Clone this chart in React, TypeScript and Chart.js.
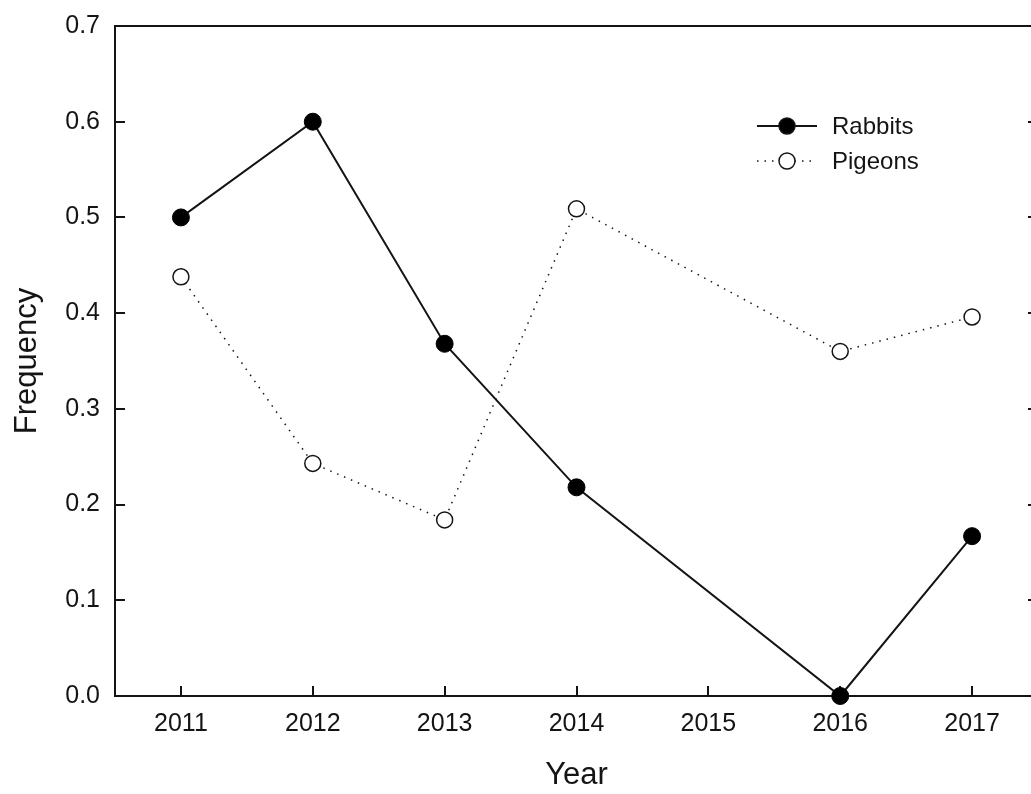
import React, { useEffect, useRef } from "react";
import { Chart, registerables } from "chart.js";

Chart.register(...registerables);

const years = [2011, 2012, 2013, 2014, 2016, 2017];
const rabbits = [0.5, 0.6, 0.368, 0.218, 0.0, 0.167];
const pigeons = [0.438, 0.243, 0.184, 0.509, 0.36, 0.396];
const xTicks = [2011, 2012, 2013, 2014, 2015, 2016, 2017];
const yTicks = [0, 0.1, 0.2, 0.3, 0.4, 0.5, 0.6, 0.7];
const seriesNames = ["Rabbits", "Pigeons"];

const FONT = "'Liberation Sans', Arial, sans-serif";
const INK = "#141414";

const framePlugin = {
  id: "frame",
  beforeDatasetsDraw(chart: any) {
    const { ctx, chartArea } = chart;
    const { left, top, right, bottom } = chartArea;
    const xs = chart.scales.x;
    const ys = chart.scales.y;
    ctx.save();
    ctx.strokeStyle = INK;
    ctx.lineWidth = 2;
    ctx.strokeRect(left, top, right - left, bottom - top);
    ctx.beginPath();
    xTicks.forEach((v) => {
      const px = Math.round(xs.getPixelForValue(v));
      ctx.moveTo(px, bottom);
      ctx.lineTo(px, bottom - 10);
    });
    yTicks.forEach((v) => {
      const py = Math.round(ys.getPixelForValue(v));
      ctx.moveTo(left, py);
      ctx.lineTo(left + 10, py);
      ctx.moveTo(right, py);
      ctx.lineTo(right - 10, py);
    });
    ctx.stroke();
    ctx.restore();
  },
};

const legendPlugin = {
  id: "customLegend",
  afterDraw(chart: any) {
    const { ctx } = chart;
    const rows = [
      { y: 126, dash: [] as number[], fill: "#000", name: seriesNames[0], lw: 2 },
      { y: 161, dash: [1.5, 6], fill: "#ffffff", name: seriesNames[1], lw: 1.5 },
    ];
    ctx.save();
    rows.forEach((r) => {
      ctx.strokeStyle = INK;
      ctx.lineWidth = r.lw;
      ctx.setLineDash(r.dash);
      ctx.beginPath();
      ctx.moveTo(757, r.y);
      ctx.lineTo(817, r.y);
      ctx.stroke();
      ctx.setLineDash([]);
      ctx.beginPath();
      ctx.arc(787, r.y, 8, 0, Math.PI * 2);
      ctx.fillStyle = r.fill;
      ctx.fill();
      ctx.lineWidth = 1.5;
      ctx.stroke();
      ctx.fillStyle = INK;
      ctx.font = `24px ${FONT}`;
      ctx.textBaseline = "middle";
      ctx.textAlign = "left";
      ctx.fillText(r.name, 832, r.y + 1);
    });
    ctx.restore();
  },
};

export default function App() {
  const ref = useRef<HTMLCanvasElement>(null);
  useEffect(() => {
    if (!ref.current) return;
    const chart = new Chart(ref.current, {
      type: "line",
      data: {
        datasets: [
          {
            label: seriesNames[0],
            data: years.map((x, i) => ({ x, y: rabbits[i] })),
            borderColor: INK,
            borderWidth: 2,
            pointRadius: 8.5,
            pointBackgroundColor: "#000",
            pointBorderColor: "#000",
            pointBorderWidth: 1,
            clip: false as any,
            tension: 0,
          },
          {
            label: seriesNames[1],
            data: years.map((x, i) => ({ x, y: pigeons[i] })),
            borderColor: INK,
            borderWidth: 1.5,
            borderDash: [1.5, 6],
            pointRadius: 8,
            pointBackgroundColor: "#fff",
            pointBorderColor: INK,
            pointBorderWidth: 1.5,
            clip: false as any,
            tension: 0,
          },
        ],
      },
      options: {
        animation: false,
        responsive: false,
        layout: { padding: { left: 0, top: 26, right: 12, bottom: 0 } },
        plugins: { legend: { display: false }, tooltip: { enabled: false } },
        scales: {
          x: {
            type: "linear",
            min: 2010.5,
            max: 2017.5,
            grid: { display: false, drawTicks: false },
            border: { display: false },
            afterBuildTicks: (s: any) => {
              s.ticks = xTicks.map((v) => ({ value: v }));
            },
            afterFit: (s: any) => {
              s.height = 98;
              s.paddingLeft = 0;
              s.paddingRight = 0;
            },
            ticks: {
              color: INK,
              padding: 13,
              font: { family: FONT, size: 25 },
              callback: (v: any) => String(v),
            },
            title: {
              display: true,
              text: "Year",
              color: INK,
              font: { family: FONT, size: 31 },
              padding: { top: 0, bottom: 0 },
            },
          },
          y: {
            type: "linear",
            min: 0,
            max: 0.7,
            grid: { display: false, drawTicks: false },
            border: { display: false },
            afterBuildTicks: (s: any) => {
              s.ticks = yTicks.map((v) => ({ value: v }));
            },
            afterFit: (s: any) => {
              s.width = 115;
              s.paddingTop = 0;
              s.paddingBottom = 0;
            },
            ticks: {
              color: INK,
              padding: 15,
              font: { family: FONT, size: 25 },
              callback: (v: any) => Number(v).toFixed(1),
            },
            title: {
              display: true,
              text: "Frequency",
              color: INK,
              font: { family: FONT, size: 31 },
              padding: { top: 9, bottom: 0 },
            },
          },
        },
      },
      plugins: [framePlugin, legendPlugin],
    });
    return () => chart.destroy();
  }, []);
  return (
    <div
      style={{
        position: "fixed",
        left: 0,
        top: 0,
        width: 1031,
        height: 794,
        overflow: "hidden",
        background: "#fff",
      }}
    >
      <canvas ref={ref} width={1050} height={794} style={{ width: 1050, height: 794, display: "block" }} />
    </div>
  );
}
